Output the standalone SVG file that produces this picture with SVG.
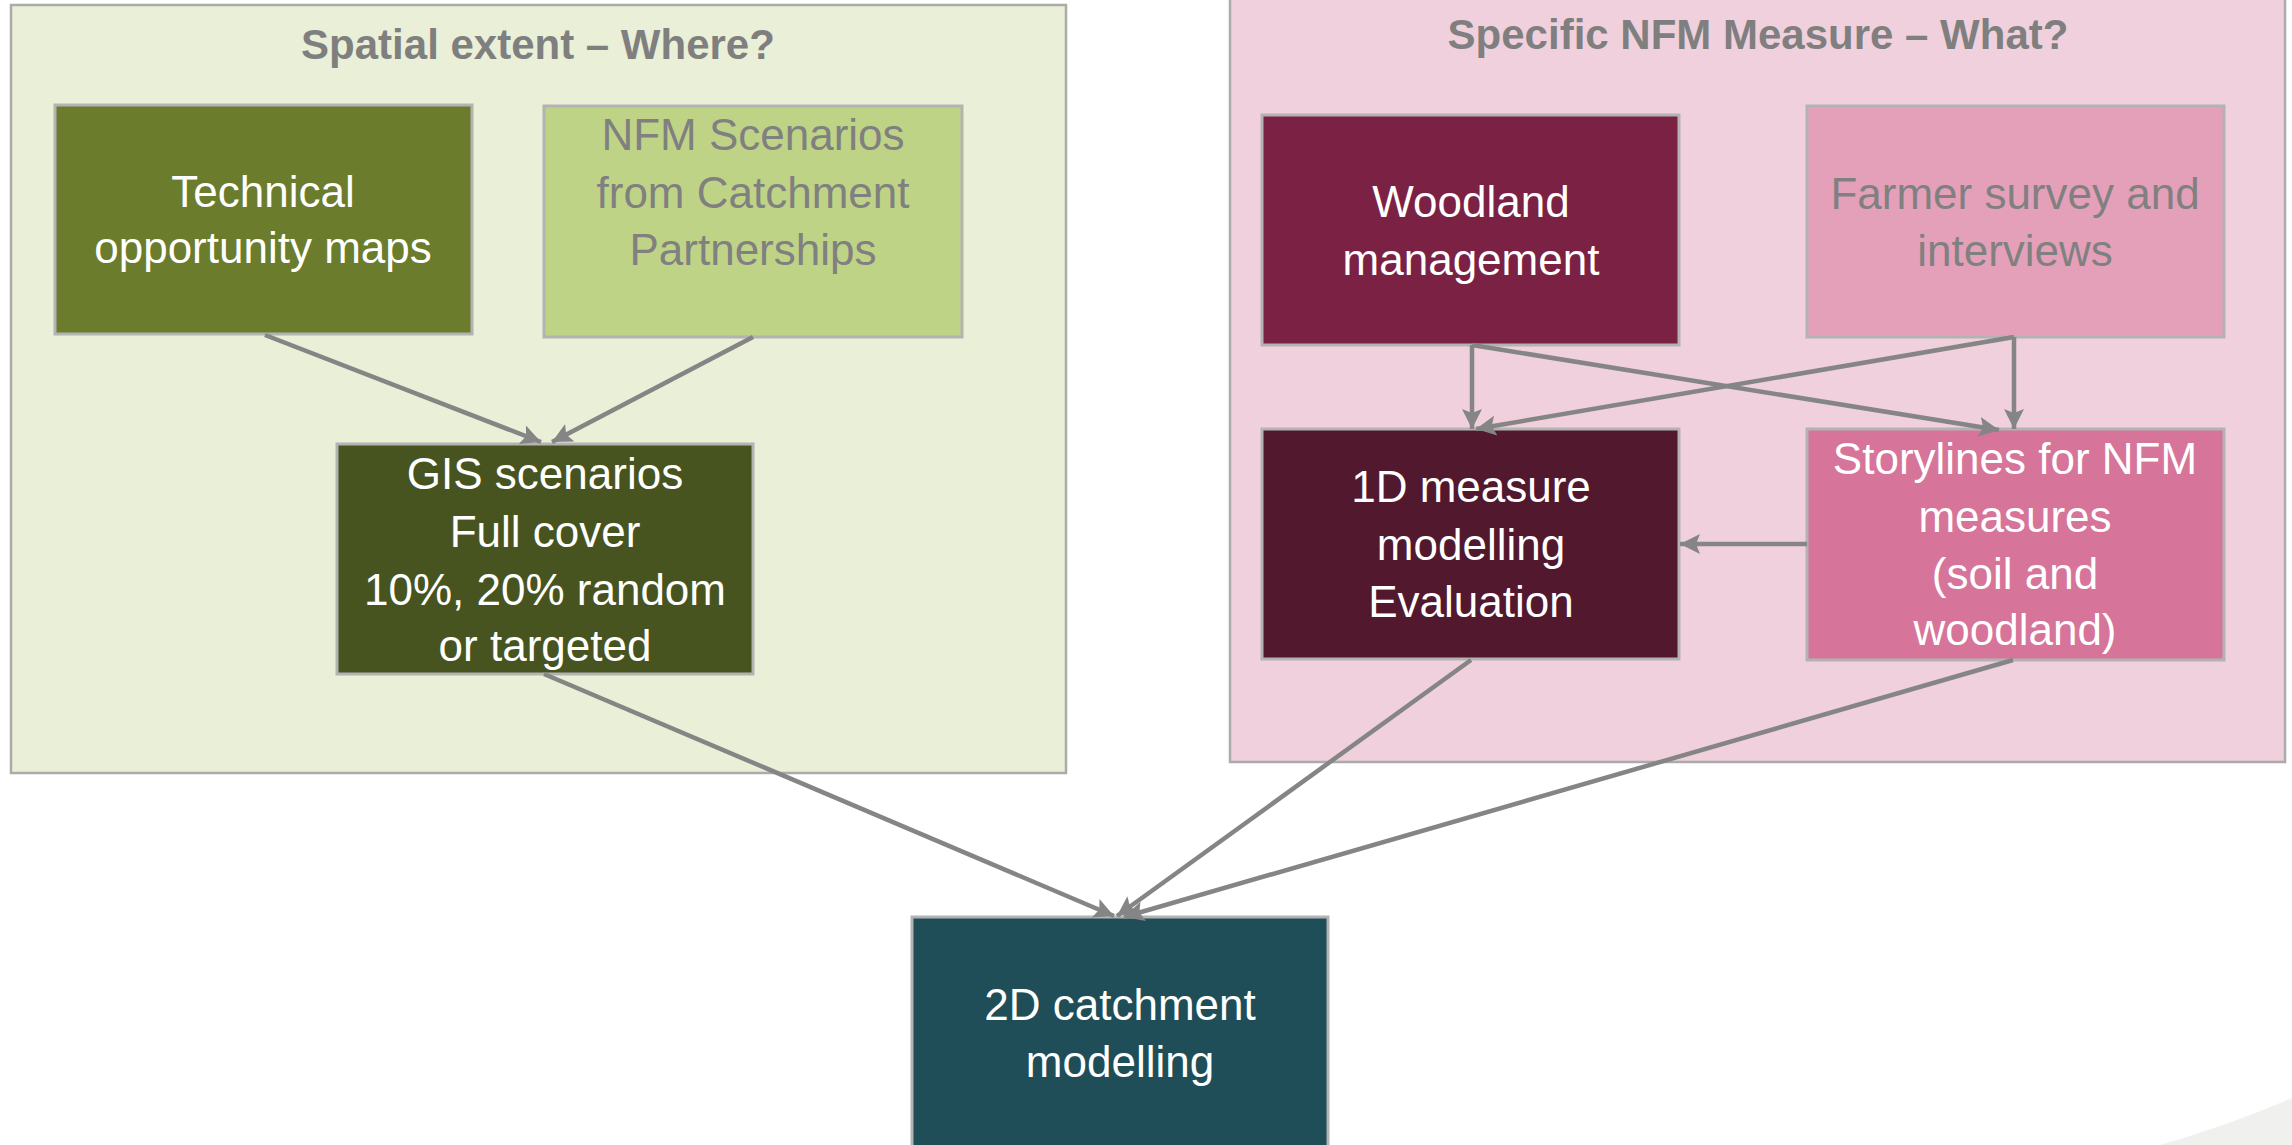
<svg xmlns="http://www.w3.org/2000/svg" width="2292" height="1145" viewBox="0 0 2292 1145">
<defs>
<style>
.panel{stroke:#ababab;stroke-width:2.5}
.box{stroke:#b3b3b3;stroke-width:3}
.t{font-family:"Liberation Sans",Arial,sans-serif;font-size:44px;text-anchor:middle}
.w{fill:#ffffff}
.g{fill:#808080}
.title{font-family:"Liberation Sans",Arial,sans-serif;font-size:42px;font-weight:bold;fill:#7f7f7f;text-anchor:middle}
.c{stroke:#858585;stroke-width:4.5;fill:none;marker-end:url(#ah)}
</style>
<marker id="ah" markerUnits="userSpaceOnUse" markerWidth="24" markerHeight="24" refX="20" refY="12" orient="auto">
<path d="M0,2 L20,12 L0,22 L4,12 z" fill="#858585"/>
</marker>
</defs>
<rect width="2292" height="1145" fill="#ffffff"/>
<path d="M2160,1145 Q2230,1125 2292,1098 L2292,1145 Z" fill="#f0f0ee"/>

<g id="panel-spatial">
<rect class="panel" x="11" y="5" width="1055" height="768" fill="#eaefd7"/>
<text class="title" x="538" y="59">Spatial extent – Where?</text>
</g>
<g id="panel-measure">
<rect class="panel" x="1230" y="-3" width="1055" height="765" fill="#f0d0dc"/>
<text class="title" x="1758" y="49">Specific NFM Measure – What?</text>
</g>

<g id="node-technical">
<rect class="box" x="55" y="105" width="417" height="229" fill="#6b7c2d"/>
<text class="t w" x="263" y="207">Technical</text>
<text class="t w" x="263" y="263">opportunity maps</text>
</g>
<g id="node-nfm-scenarios">
<rect class="box" x="544" y="106" width="418" height="231" fill="#bfd386"/>
<text class="t g" x="753" y="150">NFM Scenarios</text>
<text class="t g" x="753" y="208">from Catchment</text>
<text class="t g" x="753" y="265">Partnerships</text>
</g>
<g id="node-gis">
<rect class="box" x="337" y="444" width="416" height="230" fill="#475420"/>
<text class="t w" x="545" y="489">GIS scenarios</text>
<text class="t w" x="545" y="547">Full cover</text>
<text class="t w" x="545" y="605">10%, 20% random</text>
<text class="t w" x="545" y="661">or targeted</text>
</g>
<g id="node-woodland">
<rect class="box" x="1262" y="115" width="417" height="230" fill="#7b2244"/>
<text class="t w" x="1471" y="217">Woodland</text>
<text class="t w" x="1471" y="275">management</text>
</g>
<g id="node-farmer">
<rect class="box" x="1807" y="106" width="417" height="231" fill="#e5a0b9"/>
<text class="t g" x="2015" y="209">Farmer survey and</text>
<text class="t g" x="2015" y="266">interviews</text>
</g>
<g id="node-1d">
<rect class="box" x="1262" y="429" width="417" height="230" fill="#52182d"/>
<text class="t w" x="1471" y="502">1D measure</text>
<text class="t w" x="1471" y="560">modelling</text>
<text class="t w" x="1471" y="617">Evaluation</text>
</g>
<g id="node-storylines">
<rect class="box" x="1807" y="429" width="417" height="231" fill="#d67499"/>
<text class="t w" x="2015" y="474">Storylines for NFM</text>
<text class="t w" x="2015" y="532">measures</text>
<text class="t w" x="2015" y="589">(soil and</text>
<text class="t w" x="2015" y="645">woodland)</text>
</g>
<g id="node-2d">
<rect class="box" x="912" y="917" width="416" height="240" fill="#1f4e58"/>
<text class="t w" x="1120" y="1020">2D catchment</text>
<text class="t w" x="1120" y="1077">modelling</text>
</g>

<g id="connectors">
<line class="c" x1="265" y1="335" x2="541" y2="442"/>
<line class="c" x1="753" y1="337" x2="552" y2="442"/>
<line class="c" x1="1472" y1="345" x2="1472" y2="429"/>
<line class="c" x1="1472" y1="345" x2="1999" y2="430"/>
<line class="c" x1="2014" y1="337" x2="1476" y2="429"/>
<line class="c" x1="2014" y1="337" x2="2014" y2="429"/>
<line class="c" x1="1807" y1="544" x2="1680" y2="544"/>
<line class="c" x1="544" y1="674" x2="1114" y2="916"/>
<line class="c" x1="1471" y1="660" x2="1117" y2="916"/>
<line class="c" x1="2013" y1="660" x2="1124" y2="917"/>
</g>
</svg>
